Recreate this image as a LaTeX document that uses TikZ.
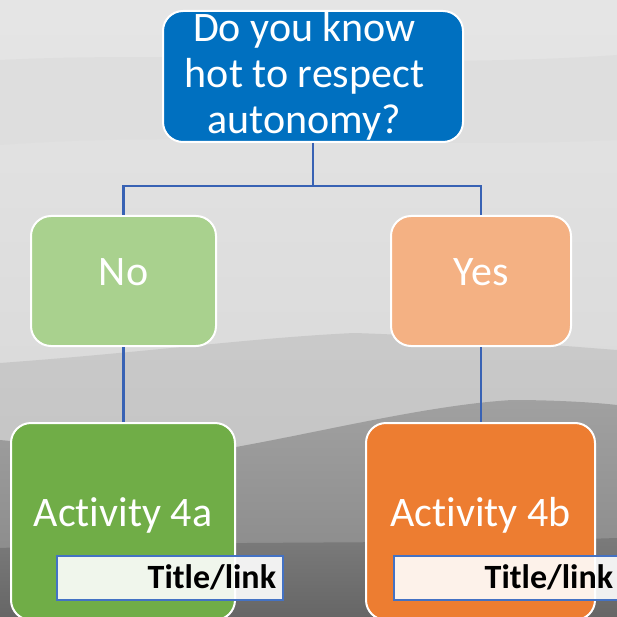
\documentclass[tikz,border=0pt]{standalone}
\usepackage{fontspec}
\setmainfont{Carlito}[Ligatures=NoCommon]
\definecolor{qblue}{HTML}{0070C0}
\definecolor{nogreen}{HTML}{A9D18E}
\definecolor{yesorange}{HTML}{F4B183}
\definecolor{actgreen}{HTML}{70AD47}
\definecolor{actorange}{HTML}{ED7D31}
\definecolor{connblue}{HTML}{3862B4}
\definecolor{linkblue}{HTML}{4472C4}
\begin{document}
\begin{tikzpicture}[x=1pt,y=-1pt,
  box/.style={rectangle, rounded corners=20pt, draw=white, line width=2pt,
    text=white, inner sep=0pt, font=\fontsize{42}{46}\selectfont, align=center},
  lowtext/.style={text height=27pt, text depth=18pt},
  conn/.style={draw=connblue, line width=2.6pt},
  linkbox/.style={rectangle, draw=linkblue, line width=2pt, fill=white,
    fill opacity=0.9, text opacity=1, text=black,
    font=\bfseries\fontsize{34}{38}\selectfont, inner xsep=7pt, inner ysep=0pt,
    text width=212pt, align=right, minimum height=44pt,
    text height=21pt, text depth=0pt}]
% background scene
\useasboundingbox (0,0) rectangle (617,617);
\shade[top color=black!10, bottom color=black!17] (0,0) rectangle (617,617);
\fill[black!13] (0,60) .. controls (200,50) and (400,70) .. (617,55) -- (617,140)
  .. controls (400,150) and (200,130) .. (0,145) -- cycle;
\shade[top color=black!21, bottom color=black!25]
  (0,363) .. controls (150,352) and (250,338) .. (354,333)
  .. controls (450,336) and (550,345) .. (617,350) -- (617,617) -- (0,617) -- cycle;
\shade[top color=black!37, bottom color=black!48]
  (0,440) .. controls (100,450) and (200,450) .. (236,447)
  .. controls (330,430) and (430,405) .. (512,400)
  .. controls (560,400) and (600,403) .. (617,405) -- (617,617) -- (0,617) -- cycle;
\shade[top color=black!52, bottom color=black!60]
  (0,548) .. controls (200,540) and (400,545) .. (617,538) -- (617,617) -- (0,617) -- cycle;
% nodes
\node[box, fill=qblue, minimum width=300pt, minimum height=131pt] (q) at (313,76.5)
  {Do you know\rule{17pt}{0pt}\\hot to respect\rule{17pt}{0pt}\\autonomy?\rule{17pt}{0pt}};
\node[box, lowtext, fill=nogreen, minimum width=185pt, minimum height=130pt] (no) at (123.5,281) {No};
\node[box, lowtext, fill=yesorange, minimum width=180pt, minimum height=130pt] (yes) at (481,281) {Yes};
\node[box, lowtext, fill=actgreen, minimum width=224pt, minimum height=197pt] (a) at (123,521.5) {Activity 4a};
\node[box, lowtext, fill=actorange, minimum width=229pt, minimum height=197pt] (b) at (480.5,521.5) {Activity 4b};
\node[linkbox] (la) at (170,578) {Title/link};
\node[linkbox] (lb) at (507,578) {Title/link};
% connectors
\coordinate (hub) at (313,186);
\draw[conn] (q.south) -- (hub) -| (no.north);
\draw[conn] (hub) -| (yes.north);
\draw[conn] (no.south) -- (no.south |- a.north);
\draw[conn] (yes.south) -- (yes.south |- b.north);
\end{tikzpicture}
\end{document}
